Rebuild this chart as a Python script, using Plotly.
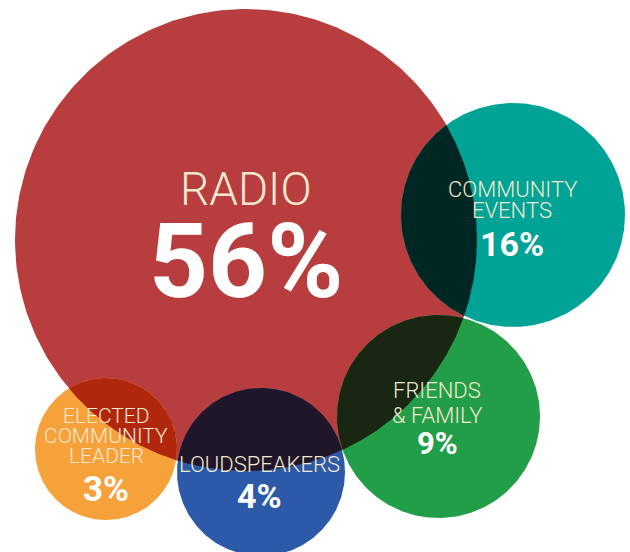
import math
import plotly.graph_objects as go

# ---- data ----
channels = ["RADIO", "COMMUNITY EVENTS", "FRIENDS & FAMILY", "LOUDSPEAKERS", "ELECTED COMMUNITY LEADER"]
label_lines = [["RADIO"], ["COMMUNITY", "EVENTS"], ["FRIENDS", "& FAMILY"], ["LOUDSPEAKERS"],
               ["ELECTED", "COMMUNITY", "LEADER"]]
shares = [56, 16, 9, 4, 3]

# ---- layout / style (pixel space of the 630x552 canvas) ----
centers = [(246, 240), (513, 215), (438.5, 416.5), (261, 472), (106, 449)]
radii = [231, 112, 101.5, 84, 71]
colors = [(183, 61, 62), (0, 163, 150), (35, 158, 72), (45, 90, 168), (247, 161, 59)]
label_font = [46, 22, 22, 22, 21]
pct_font = [103, 34, 31, 34, 35]
# cap-centre y of each label line and of the percentage, x of the block
label_y = [[188.5], [189, 210], [390, 415], [464.5], [415.5, 436, 456]]
pct_y = [261.5, 244, 443, 496, 489.5]
text_x = [245.5, 512, 437, 259, 106]

W, H = 630, 552


def hexc(c):
    return "#%02x%02x%02x" % tuple(int(round(v)) for v in c)


def multiply(a, b):
    return tuple(a[i] * b[i] / 255.0 for i in range(3))


def circle_pts(c, r, n=360):
    xs = [c[0] + r * math.cos(2 * math.pi * k / n) for k in range(n + 1)]
    ys = [c[1] + r * math.sin(2 * math.pi * k / n) for k in range(n + 1)]
    return xs, ys


def lens_pts(c1, r1, c2, r2, n=120):
    dx, dy = c2[0] - c1[0], c2[1] - c1[1]
    d = math.hypot(dx, dy)
    if d >= r1 + r2:
        return None
    a = (r1 * r1 - r2 * r2 + d * d) / (2 * d)
    b = d - a
    al = math.acos(max(-1, min(1, a / r1)))
    bl = math.acos(max(-1, min(1, b / r2)))
    t1 = math.atan2(dy, dx)
    t2 = math.atan2(-dy, -dx)
    xs, ys = [], []
    for k in range(n + 1):
        t = t1 - al + 2 * al * k / n
        xs.append(c1[0] + r1 * math.cos(t)); ys.append(c1[1] + r1 * math.sin(t))
    for k in range(n + 1):
        t = t2 - bl + 2 * bl * k / n
        xs.append(c2[0] + r2 * math.cos(t)); ys.append(c2[1] + r2 * math.sin(t))
    xs.append(xs[0]); ys.append(ys[0])
    return xs, ys


fig = go.Figure()

# circles
for i, name in enumerate(channels):
    xs, ys = circle_pts(centers[i], radii[i])
    fig.add_trace(go.Scatter(x=xs, y=ys, mode="lines", fill="toself", fillcolor=hexc(colors[i]),
                             line=dict(width=0), hoverinfo="text",
                             text="%s: %d%%" % (name, shares[i]), showlegend=False))

# overlaps (multiply blend)
for i in range(len(channels)):
    for j in range(i + 1, len(channels)):
        res = lens_pts(centers[i], radii[i], centers[j], radii[j])
        if res is None:
            continue
        xs, ys = res
        fig.add_trace(go.Scatter(x=xs, y=ys, mode="lines", fill="toself",
                                 fillcolor=hexc(multiply(colors[i], colors[j])),
                                 line=dict(width=0), hoverinfo="skip", showlegend=False))

cream = "#f1e9cf"
for i in range(len(channels)):
    for line, yy in zip(label_lines[i], label_y[i]):
        fig.add_annotation(x=text_x[i], y=yy, text=line, showarrow=False,
                           xanchor="center", yanchor="middle",
                           font=dict(family="Roboto", size=label_font[i], color=cream, weight=300))
    fig.add_annotation(x=text_x[i], y=pct_y[i], text="%d%%" % shares[i], showarrow=False,
                       xanchor="center", yanchor="middle",
                       font=dict(family="Roboto", size=pct_font[i], color="#ffffff", weight=700))

fig.update_layout(width=W, height=H, margin=dict(l=0, r=0, t=0, b=0),
                  paper_bgcolor="#ffffff", plot_bgcolor="#ffffff",
                  xaxis=dict(range=[0, W], visible=False, fixedrange=True),
                  yaxis=dict(range=[H, 0], visible=False, fixedrange=True),
                  showlegend=False)

fig.write_html("out.html", config={"displayModeBar": False},
               post_script="document.body.style.margin='0';document.body.style.overflow='hidden';")
